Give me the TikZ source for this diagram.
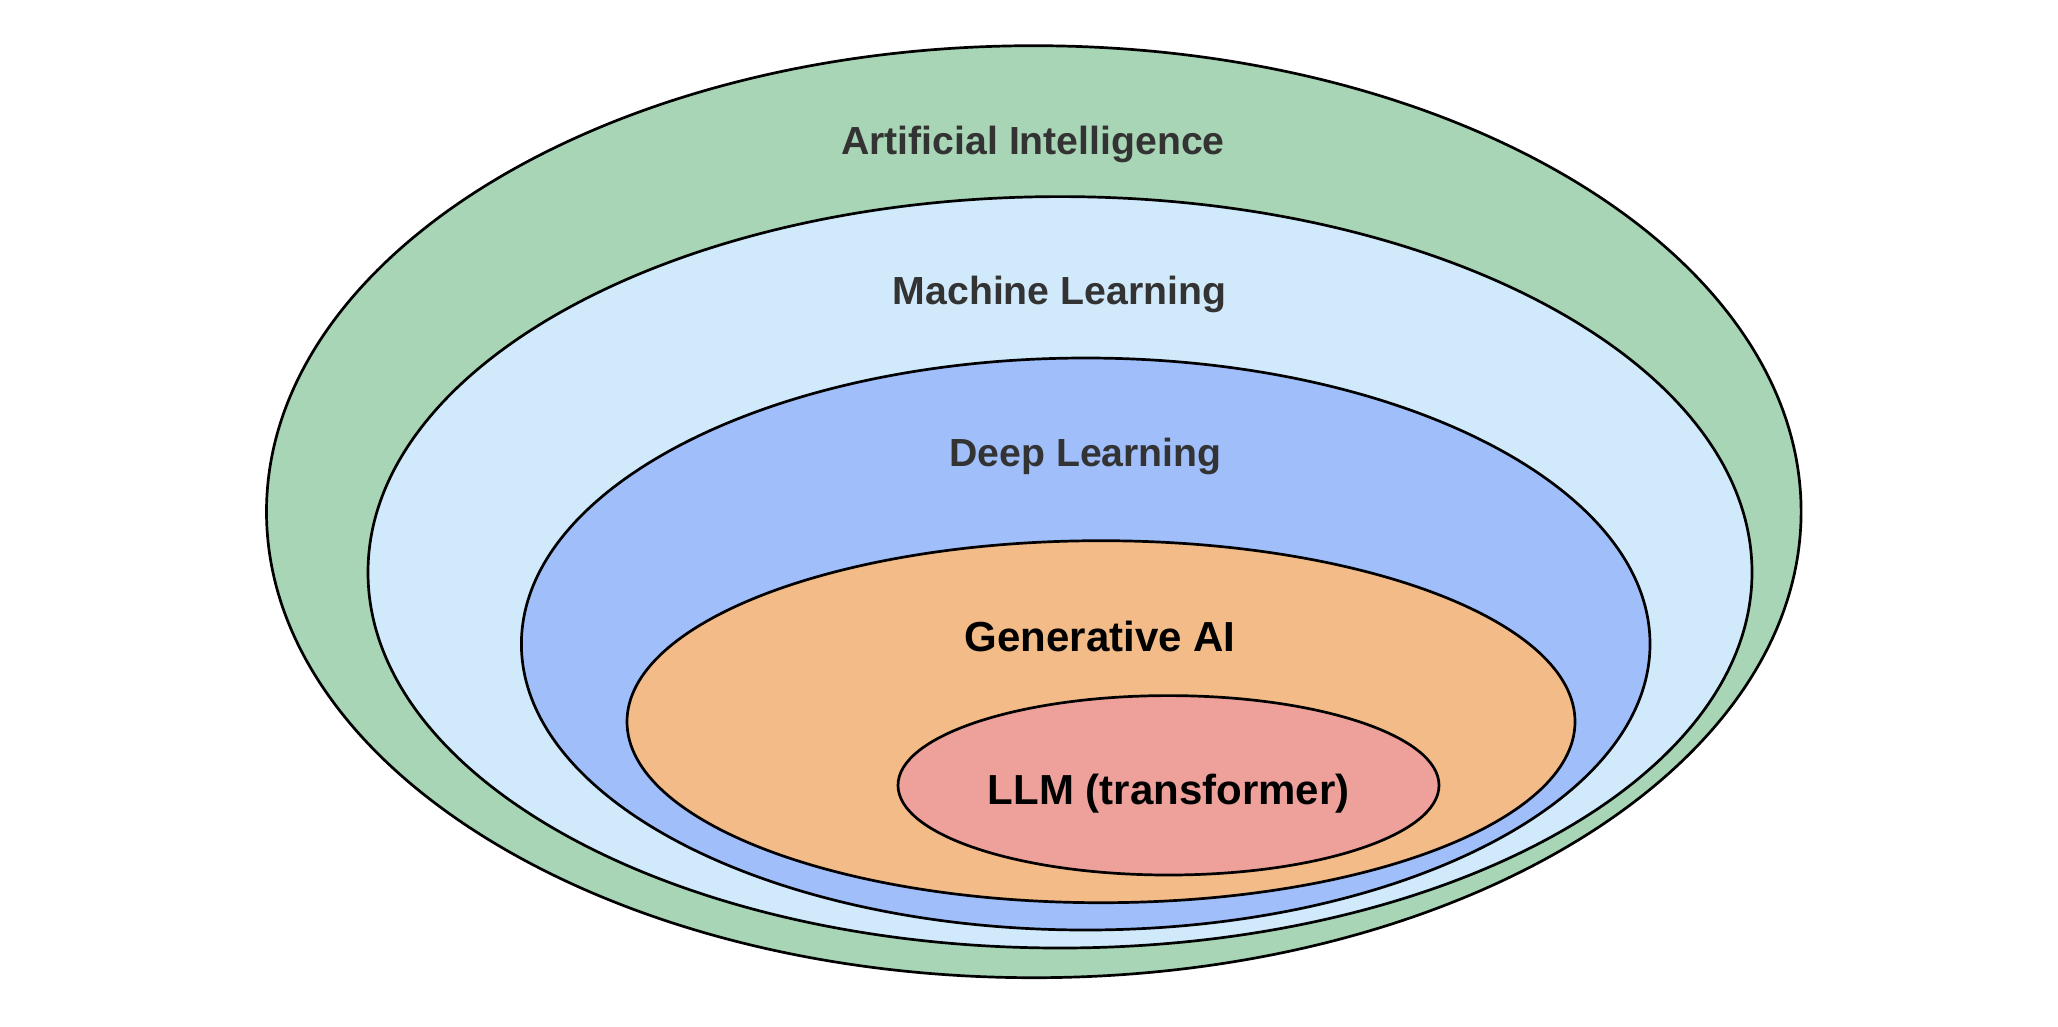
\documentclass[tikz,border=0pt]{standalone}
\usepackage{fontspec}
\setmainfont{Liberation Sans}
\definecolor{aifill}{HTML}{A8D5B5}
\definecolor{mlfill}{HTML}{D0EAFC}
\definecolor{dlfill}{HTML}{A0BEFA}
\definecolor{gafill}{HTML}{F2BB88}
\definecolor{llmfill}{HTML}{EEA19B}
\definecolor{darktext}{HTML}{333333}
\tikzset{
  ring/.style={draw=black, line width=2.7pt},
  lbl/.style={anchor=base, inner sep=0pt, font=\bfseries\fontsize{39.2}{47}\selectfont, text=darktext},
  lblbig/.style={anchor=base, inner sep=0pt, font=\bfseries\fontsize{42}{50}\selectfont, text=black}
}
\begin{document}
\begin{tikzpicture}[x=1pt,y=-1pt]
\useasboundingbox (0,0) rectangle (2058,1026);
\fill[white] (0,0) rectangle (2058,1026);
\draw[ring, fill=aifill] (1033.8,511.7) ellipse [x radius=767.3, y radius=466];
\draw[ring, fill=mlfill] (1060,572.3) ellipse [x radius=692, y radius=375.7];
\draw[ring, fill=dlfill] (1085.7,644) ellipse [x radius=564.3, y radius=286];
\draw[ring, fill=gafill] (1101,721.7) ellipse [x radius=474, y radius=181];
\draw[ring, fill=llmfill] (1168.5,785.3) ellipse [x radius=270.5, y radius=89.7];
\node[lbl] (tai) at (1033,154) {Artificial Intelligence};
\node[lbl] (tml) at (1059.5,304) {Machine Learning};
\node[lbl] (tdl) at (1085.5,466.7) {Deep Learning};
\node[lblbig] (tga) at (1100,651.7) {Generative AI};
\node[lblbig] (tllm) at (1168.7,804) {LLM (transformer)};
\end{tikzpicture}
\end{document}
